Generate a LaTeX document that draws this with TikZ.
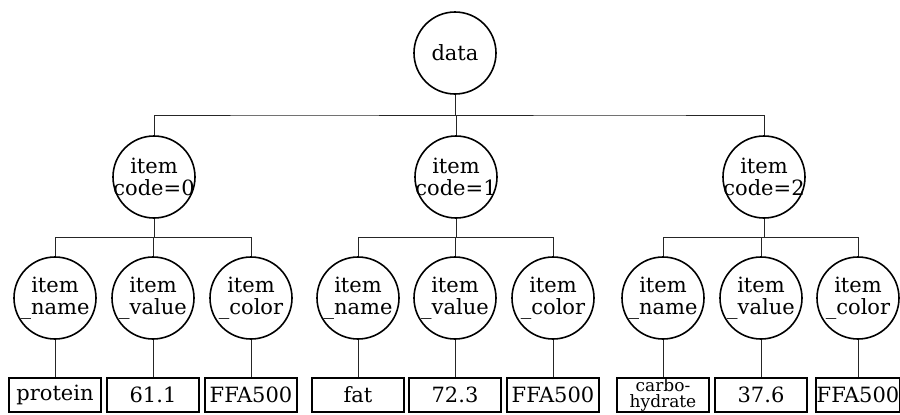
\documentclass[tikz,border=0pt]{standalone}
\usepackage{fontspec}
\setmainfont{DejaVu Serif}
\usetikzlibrary{calc}
\begin{document}
\begin{tikzpicture}[x=0.5pt,y=-0.5pt,
  field/.style={circle,draw,line width=0.8pt,minimum size=41pt,inner sep=-6pt,align=center,font=\fontsize{10.5}{11}\selectfont},
  val/.style={rectangle,draw,line width=0.8pt,minimum width=46pt,minimum height=17pt,inner sep=0.5pt,align=center,font=\fontsize{10.5}{11}\selectfont},
  branch/.style={to path={|- ($(\tikztostart)!.5!(\tikztotarget)$) -| (\tikztotarget)}},
  link/.style={black!85,line width=0.5pt}]
\useasboundingbox (0,0) rectangle (900,414);

\node[field] (data) at (455,53) {data};
\node[field] (c0) at (154,177) {item\\code=0};
\node[field] (c1) at (456,177) {item\\code=1};
\node[field] (c2) at (764,177) {item\\code=2};

\node[field] (n0) at (55,298)  {item\\\_name};
\node[field] (v0) at (153,298) {item\\\_value};
\node[field] (k0) at (251,298) {item\\\_color};
\node[field] (n1) at (358,298) {item\\\_name};
\node[field] (v1) at (455,298) {item\\\_value};
\node[field] (k1) at (553,298) {item\\\_color};
\node[field] (n2) at (663,298) {item\\\_name};
\node[field] (v2) at (761,298) {item\\\_value};
\node[field] (k2) at (858,298) {item\\\_color};

\node[val] (pn0) at (55,395)  {protein};
\node[val] (pv0) at (153,395) {61.1};
\node[val] (pk0) at (251,395) {FFA500};
\node[val] (pn1) at (358,395) {fat};
\node[val] (pv1) at (455,395) {72.3};
\node[val] (pk1) at (553,395) {FFA500};
\node[val,inner sep=0pt,font=\fontsize{8.5}{8}\selectfont] (pn2) at (663,395) {carbo-\\hydrate};
\node[val] (pv2) at (761,395) {37.6};
\node[val,minimum width=42pt] (pk2) at (858,395) {FFA500};

\foreach \c in {c0,c1,c2}
  \draw[link] (data) to[branch] (\c);
\foreach \i in {0,1,2}{
  \draw[link] (c\i) to[branch] (n\i);
  \draw[link] (c\i) to[branch] (v\i);
  \draw[link] (c\i) to[branch] (k\i);
  \draw[link] (n\i) -- (pn\i);
  \draw[link] (v\i) -- (pv\i);
  \draw[link] (k\i) -- (pk\i);
}
\end{tikzpicture}
\end{document}
